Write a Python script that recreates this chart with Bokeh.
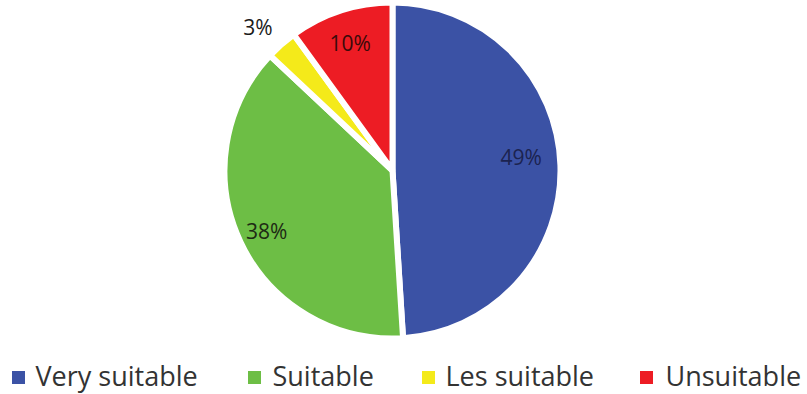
import math
from bokeh.plotting import figure
from bokeh.models import Range1d, ColumnDataSource
from bokeh.core.properties import value
from bokeh.embed import file_html
from bokeh.resources import INLINE

categories = ["Very suitable", "Suitable", "Les suitable", "Unsuitable"]
shares = [49, 38, 3, 10]
labels = ["49%", "38%", "3%", "10%"]
colors = ["#3B52A5", "#6DBE45", "#F4EA1A", "#ED1C24"]

W, H = 807, 394
FONT = "Open Sans"

p = figure(width=W, height=H, output_backend="svg", toolbar_location=None,
           x_range=Range1d(0, W), y_range=Range1d(0, H), min_border=0)
p.axis.visible = False
p.grid.visible = False
p.outline_line_color = None
p.background_fill_color = "white"

cx, cy, R = 392, 224, 168
total = float(sum(shares))
starts, ends, mids = [], [], []
acc = 0.0
for s in shares:
    a0 = math.pi / 2 - 2 * math.pi * acc / total
    acc += s
    a1 = math.pi / 2 - 2 * math.pi * acc / total
    starts.append(a0)
    ends.append(a1)
    mids.append((a0 + a1) / 2)

src = ColumnDataSource(dict(start=starts, end=ends, color=colors))
p.wedge(x=cx, y=cy, radius=R, start_angle="start", end_angle="end",
        direction="clock", fill_color="color", line_color="white",
        line_width=6, source=src)

# label placement (radius fraction, angular nudge in degrees)
label_r = [0.77, 0.83, 1.17, 0.80]
label_da = [4.4, 0.3, 1.8, 0.4]
label_colors = ["#1B2350", "#1E2A14", "#1a1a1a", "#3a0a0a"]
lang = [m + math.radians(d) for m, d in zip(mids, label_da)]
lx = [cx + R * f * math.cos(a) for f, a in zip(label_r, lang)]
ly = [cy + R * f * math.sin(a) for f, a in zip(label_r, lang)]
p.text(x=lx, y=ly, text=labels, text_align="center", text_baseline="middle",
       text_font=value(FONT), text_font_size="21px", text_color=label_colors)

# legend
sq_x = [18, 254, 428, 646]
tx = [35, 272, 445, 665]
p.rect(x=sq_x, y=[17] * 4, width=13, height=13, fill_color=colors, line_color=None)
p.text(x=tx, y=[19] * 4, text=categories, text_align="left", text_baseline="middle",
       text_font=value(FONT), text_font_size="27px", text_color="#333333")

open("out.html", "w").write(file_html(p, INLINE))
